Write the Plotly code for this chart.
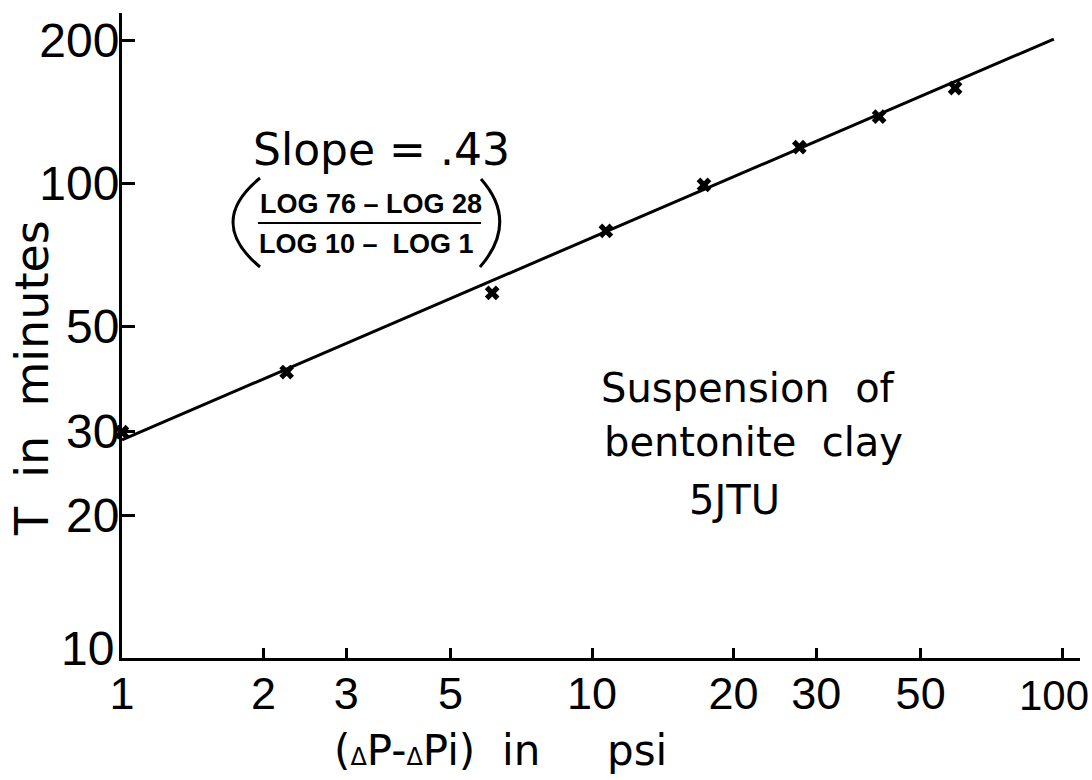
import math
import plotly.graph_objects as go

# ---- data (log-log) ----
dp_psi = [1.0, 2.24, 6.13, 10.7, 17.3, 27.6, 40.8, 59.2]
t_min = [29.9, 40.0, 58.7, 79.3, 99.1, 119.0, 138.0, 158.5]

fit_x = [1.0, 96.0]
fit_y = [28.8, 201.0]

x_tickvals = [1, 2, 3, 5, 10, 20, 30, 50, 100]
x_ticktext = ["1", "2", "3", "5", "10", "20", "30", "50", "100"]
y_tickvals = [10, 20, 30, 50, 100, 200]
y_ticktext = ["10", "20", "30", "50", "100", "200"]

W, H = 1092, 780
L, R, T, B = 122, 12, 13, 122
PW, PH = W - L - R, H - T - B


def px(xp):
    return (xp - L) / PW


def py(yp):
    return (H - B - yp) / PH


TXT = "DejaVu Sans, Liberation Sans, sans-serif"
TICK = "Liberation Sans, Arial, sans-serif"
BOLD = "Liberation Sans, Arial, sans-serif"

# corner labels are drawn as annotations nudged to avoid the page edge / each other
shown_x_text = x_ticktext[:-1] + [""]
shown_y_text = [""] + y_ticktext[1:]

fig = go.Figure()
fig.add_trace(go.Scatter(x=fit_x, y=fit_y, mode="lines",
                         line=dict(color="black", width=3), showlegend=False))
fig.add_trace(go.Scatter(x=dp_psi, y=t_min, mode="markers",
                         marker=dict(symbol="x", size=13, color="black",
                                     line=dict(width=0)),
                         showlegend=False, cliponaxis=False))

fig.update_layout(
    width=W, height=H,
    margin=dict(l=L, r=R, t=T, b=B, pad=0, autoexpand=False),
    paper_bgcolor="white", plot_bgcolor="white",
    showlegend=False,
    xaxis=dict(type="log", range=[0, 2.038], tickvals=x_tickvals, ticktext=shown_x_text,
               ticks="inside", ticklen=10, tickwidth=2.5, tickcolor="black",
               showline=True, linecolor="black", linewidth=3, showgrid=False,
               zeroline=False, ticklabeloverflow="allow", ticklabelstandoff=-6,
               automargin=False,
               tickfont=dict(family=TICK, size=45, color="black")),
    yaxis=dict(type="log", range=[1, 2.358], tickvals=y_tickvals, ticktext=shown_y_text,
               ticks="inside", ticklen=13, tickwidth=2.5, tickcolor="black",
               showline=True, linecolor="black", linewidth=3, showgrid=False,
               zeroline=False, ticklabelstandoff=-10, ticklabeloverflow="allow",
               automargin=False,
               tickfont=dict(family=TICK, size=48, color="black")),
)

ann = []
ann.append(dict(xref="x", yref="paper", x=math.log10(x_tickvals[-1]), y=0,
                xshift=-8, yshift=-12, text=x_ticktext[-1], showarrow=False,
                font=dict(family=TICK, size=42, color="black"),
                xanchor="center", yanchor="top"))
ann.append(dict(xref="paper", yref="y", x=0, y=math.log10(y_tickvals[0]),
                xshift=-6, yshift=10, text=y_ticktext[0], showarrow=False,
                font=dict(family=TICK, size=48, color="black"),
                xanchor="right", yanchor="middle"))
# axis titles
ann.append(dict(xref="paper", yref="paper", x=px(500), y=py(750),
                text="(<span style='font-size:24px'>Δ</span>P-<span style='font-size:24px'>Δ</span>Pi)&nbsp;&nbsp;in&nbsp;&nbsp;&nbsp;&nbsp;&nbsp;psi",
                showarrow=False, font=dict(family=TXT, size=42, color="black"),
                xanchor="center", yanchor="middle"))
ann.append(dict(xref="paper", yref="paper", x=px(32), y=py(378),
                text="T&nbsp;&nbsp;in&nbsp;&nbsp;minutes", textangle=-90,
                showarrow=False, font=dict(family=TXT, size=46, color="black"),
                xanchor="center", yanchor="middle"))
# slope annotation
ann.append(dict(xref="paper", yref="paper", x=px(381), y=py(150),
                text="Slope = .43", showarrow=False,
                font=dict(family=TXT, size=44, color="black"),
                xanchor="center", yanchor="middle"))
ann.append(dict(xref="paper", yref="paper", x=px(371), y=py(204),
                text="<b>LOG 76 – LOG 28</b>", showarrow=False,
                font=dict(family=BOLD, size=27, color="black"),
                xanchor="center", yanchor="middle"))
ann.append(dict(xref="paper", yref="paper", x=px(366), y=py(244),
                text="<b>LOG 10 –&nbsp;&nbsp;LOG 1</b>", showarrow=False,
                font=dict(family=BOLD, size=27, color="black"),
                xanchor="center", yanchor="middle"))
# right-side label
ann.append(dict(xref="paper", yref="paper", x=px(748), y=py(388),
                text="Suspension&nbsp;&nbsp;of", showarrow=False,
                font=dict(family=TXT, size=40, color="black"),
                xanchor="center", yanchor="middle"))
ann.append(dict(xref="paper", yref="paper", x=px(753), y=py(442),
                text="bentonite&nbsp;&nbsp;clay", showarrow=False,
                font=dict(family=TXT, size=40, color="black"),
                xanchor="center", yanchor="middle"))
ann.append(dict(xref="paper", yref="paper", x=px(734), y=py(500),
                text="5JTU", showarrow=False,
                font=dict(family=TXT, size=40, color="black"),
                xanchor="center", yanchor="middle"))
fig.update_layout(annotations=ann)

# fraction bar and parentheses
shapes = [
    dict(type="line", xref="paper", yref="paper",
         x0=px(258), x1=px(481), y0=py(223), y1=py(223),
         line=dict(color="black", width=2)),
    dict(type="path", xref="paper", yref="paper",
         path=f"M {px(260)},{py(178)} Q {px(206)},{py(222)} {px(260)},{py(267)}",
         line=dict(color="black", width=3)),
    dict(type="path", xref="paper", yref="paper",
         path=f"M {px(481)},{py(179)} Q {px(519)},{py(222)} {px(480)},{py(267)}",
         line=dict(color="black", width=3)),
]
fig.update_layout(shapes=shapes)

fig.write_html("out.html")
